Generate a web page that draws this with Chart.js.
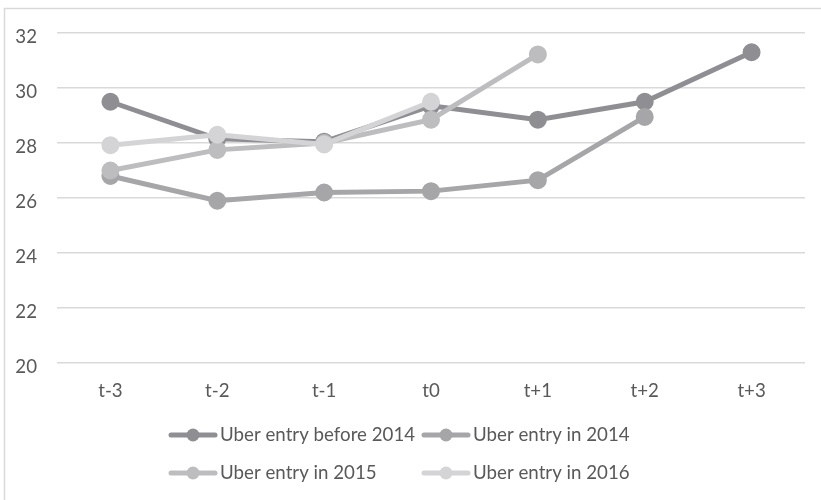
<!DOCTYPE html>
<html>
<head>
<meta charset="utf-8">
<script src="https://cdn.jsdelivr.net/npm/chart.js@4"></script>
<style>
  html, body { margin: 0; padding: 0; background: #ffffff; }
  #wrap { width: 821px; height: 500px; position: relative; }
</style>
</head>
<body>
<div id="wrap"><canvas id="c" width="821" height="500"></canvas></div>
<script>
// Periods relative to Uber entry
const periods = ["t-3", "t-2", "t-1", "t0", "t+1", "t+2", "t+3"];

// Series values per entry cohort
const entryBefore2014 = [29.5, 28.15, 28.05, 29.35, 28.85, 29.5, 31.3];
const entryIn2014     = [26.8, 25.9, 26.2, 26.25, 26.65, 28.95, null];
const entryIn2015     = [27.0, 27.75, 28.0, 28.85, 31.22, null, null];
const entryIn2016     = [27.92, 28.3, 27.95, 29.5, null, null, null];

const seriesNames = [
  "Uber entry before 2014",
  "Uber entry in 2014",
  "Uber entry in 2015",
  "Uber entry in 2016"
];

// Y axis
const yMin = 20, yMax = 32, yStep = 2;

const colors = ["#8f8f93", "#a6a6a9", "#bdbdbf", "#d4d4d6"];
const FONT = "Lato, 'Liberation Sans', sans-serif";
const FONT_SIZE = 18.7;
const TEXT = "#595959";

const seriesData = [entryBefore2014, entryIn2014, entryIn2015, entryIn2016];

function makeDataset(i) {
  return {
    label: seriesNames[i],
    data: seriesData[i],
    borderColor: colors[i],
    backgroundColor: colors[i],
    pointBackgroundColor: colors[i],
    pointBorderColor: colors[i],
    borderWidth: 5,
    pointRadius: 6.5,
    pointHoverRadius: 6.5,
    tension: 0,
    spanGaps: false,
    // later cohorts are painted over earlier ones
    order: seriesNames.length - 1 - i
  };
}

// Outer frame and white background
const framePlugin = {
  id: "frame",
  beforeDraw(chart) {
    const ctx = chart.ctx;
    ctx.save();
    ctx.fillStyle = "#ffffff";
    ctx.fillRect(0, 0, chart.width, chart.height);
    ctx.strokeStyle = "#d9d9d9";
    ctx.lineWidth = 1.5;
    ctx.strokeRect(4.5, 8.5, chart.width + 10, chart.height + 10);
    ctx.restore();
  }
};

// Two-column legend with line-and-marker keys
const legendPlugin = {
  id: "lineLegend",
  afterDraw(chart) {
    const ctx = chart.ctx;
    const cols = [169, 422];
    const rows = [435, 473];
    ctx.save();
    ctx.font = FONT_SIZE + "px " + FONT;
    ctx.textBaseline = "middle";
    ctx.textAlign = "left";
    seriesNames.forEach((name, i) => {
      const x = cols[i % 2];
      const y = rows[Math.floor(i / 2)];
      ctx.strokeStyle = colors[i];
      ctx.lineWidth = 5;
      ctx.lineCap = "round";
      ctx.beginPath();
      ctx.moveTo(x + 2, y);
      ctx.lineTo(x + 46, y);
      ctx.stroke();
      ctx.fillStyle = colors[i];
      ctx.beginPath();
      ctx.arc(x + 24, y, 6.5, 0, Math.PI * 2);
      ctx.fill();
      ctx.fillStyle = TEXT;
      ctx.fillText(name, x + 51, y);
    });
    ctx.restore();
  }
};

new Chart(document.getElementById("c"), {
  type: "line",
  data: {
    labels: periods,
    datasets: [0, 1, 2, 3].map(makeDataset)
  },
  options: {
    responsive: false,
    animation: false,
    events: [],
    layout: { padding: { top: 33, right: 16, bottom: 0, left: 0 } },
    plugins: {
      legend: { display: false },
      tooltip: { enabled: false }
    },
    scales: {
      x: {
        offset: true,
        grid: { display: false, drawTicks: false },
        border: { display: false },
        ticks: {
          color: TEXT,
          font: { family: FONT, size: FONT_SIZE },
          padding: 17,
          maxRotation: 0
        },
        afterFit(scale) { scale.height = 137; }
      },
      y: {
        min: yMin,
        max: yMax,
        grid: { color: "#d9d9d9", lineWidth: 1.5, drawTicks: false },
        border: { display: false },
        ticks: {
          stepSize: yStep,
          color: TEXT,
          font: { family: FONT, size: FONT_SIZE },
          padding: 20,
          labelOffset: 4
        },
        afterFit(scale) { scale.width = 57; }
      }
    }
  },
  plugins: [framePlugin, legendPlugin]
});
</script>
</body>
</html>
